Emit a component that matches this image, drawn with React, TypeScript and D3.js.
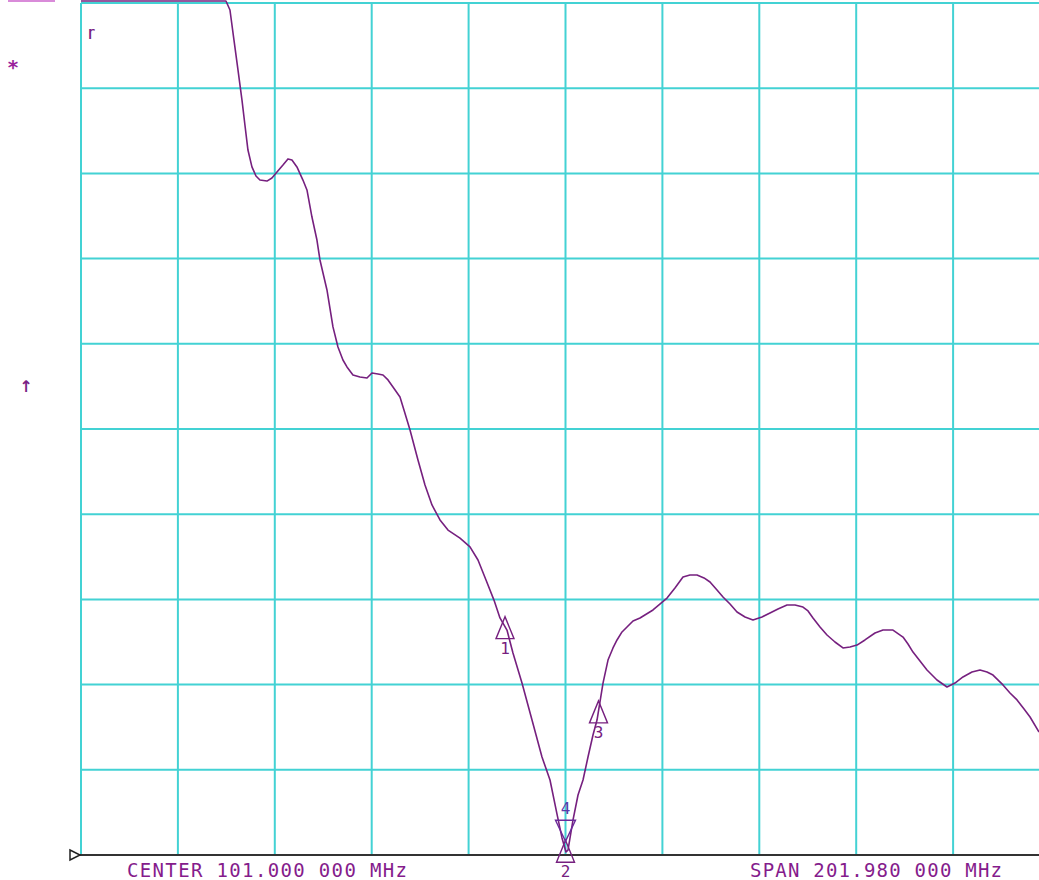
import React from "react";
import * as d3 from "d3";

// Sweep setup (network analyzer screen)
const centerMHz = 101.0;
const spanMHz = 201.98;
const xDivisions = 10;
const yDivisions = 10;
const refLevelDb = 0;
const dbPerDiv = 5;

const centerLabel = "CENTER 101.000 000 MHz";
const spanLabel = "SPAN 201.980 000 MHz";

// Trace
const freqMHz = [
  0.01, 14.39, 30.23, 31.06, 31.89, 32.73, 33.56, 34.18, 34.81, 35.64, 36.48, 37.31, 38.77, 39.81,
  40.86, 42.11, 43.15, 43.98, 45.02, 46.27, 47.11, 48.15, 49.19, 49.82, 51.28, 52.53, 53.57, 54.61,
  55.45, 56.7, 58.16, 59.62, 60.66, 61.91, 62.96, 64.0, 65.04, 66.5, 67.33, 68.59, 70.25, 71.71,
  73.17, 74.84, 76.51, 79.01, 81.09, 82.76, 84.43, 86.09, 87.34, 88.8, 90.05, 91.93, 94.02, 96.1,
  97.77, 99.23, 100.27, 101.1, 101.52, 102.56, 103.61, 104.65, 105.69, 106.73, 107.57, 108.82,
  109.86, 110.9, 111.74, 112.78, 113.82, 115.07, 116.53, 119.24, 122.16, 123.82, 125.49, 126.95,
  128.41, 129.87, 131.12, 132.58, 133.83, 135.29, 136.75, 138.42, 140.08, 141.96, 143.63, 145.29,
  147.17, 148.84, 150.5, 151.55, 152.59, 154.05, 155.51, 157.17, 158.84, 160.3, 161.76, 163.42,
  165.51, 167.18, 169.26, 171.35, 172.39, 173.43, 174.89, 176.35, 178.43, 180.52, 182.18, 183.85,
  185.73, 187.4, 188.86, 190.11, 192.19, 193.65, 195.12, 196.58, 197.83, 199.7,
];
const levelDb = [
  0.12, 0.12, 0.12, -0.41, -2.17, -3.93, -5.69, -7.16, -8.63, -9.62, -10.15, -10.39, -10.45, -10.27,
  -9.92, -9.51, -9.15, -9.21, -9.62, -10.39, -10.97, -12.56, -13.91, -15.08, -16.84, -19.01, -20.19, -20.95,
  -21.36, -21.83, -21.95, -22.01, -21.71, -21.77, -21.83, -22.12, -22.54, -23.12, -23.89, -25.06, -26.82, -28.29,
  -29.46, -30.34, -30.93, -31.4, -31.92, -32.69, -33.86, -35.04, -36.09, -36.8, -38.15, -39.91, -42.08, -44.25,
  -45.6, -47.6, -49.0, -49.82, -49.71, -47.95, -46.48, -45.6, -44.25, -42.96, -42.08, -39.91,
  -38.56, -37.85, -37.38, -36.91, -36.62, -36.27, -36.09, -35.62, -34.92, -34.33, -33.69, -33.57,
  -33.57, -33.74, -33.98, -34.45, -34.86, -35.27, -35.74, -36.03, -36.21, -36.03, -35.8, -35.56,
  -35.33, -35.33, -35.45, -35.68, -36.09, -36.62, -37.09, -37.5, -37.85, -37.79, -37.68, -37.38,
  -36.97, -36.8, -36.8, -37.21, -37.62, -38.09, -38.62, -39.14, -39.73, -40.14, -39.91, -39.55,
  -39.26, -39.14, -39.26, -39.44, -40.02, -40.49, -40.9, -41.43, -41.9, -42.78,
];

// Markers: number, frequency
const markerIds = ["1", "2", "3"];
const markerFreqs = [88.39, 101.0, 107.88];
const deltaMarkerId = "4";
const deltaMarkerFreq = 101.0;

const W = 1039;
const H = 880;
const left = 81;
const top = 3;
const gridW = 969;
const gridH = 852;

const GRID = "#43d2d4";
const TRACE = "#76207f";
const TEXT = "#851c8c";

export default function App() {
  const startF = centerMHz - spanMHz / 2;
  const stopF = centerMHz + spanMHz / 2;
  const x = d3.scaleLinear().domain([startF, stopF]).range([left, left + gridW]);
  const bottomDb = refLevelDb - dbPerDiv * yDivisions;
  const y = d3.scaleLinear().domain([bottomDb, refLevelDb]).range([top + gridH, top]);

  const pts: [number, number][] = freqMHz.map((f, i) => [f, levelDb[i]]);
  const line = d3
    .line<[number, number]>()
    .x((d) => x(d[0]))
    .y((d) => Math.max(1, y(d[1])));

  const interp = (f: number) => {
    const i = d3.bisector((d: [number, number]) => d[0]).left(pts, f);
    if (i <= 0) return pts[0][1];
    if (i >= pts.length) return pts[pts.length - 1][1];
    const [f0, v0] = pts[i - 1];
    const [f1, v1] = pts[i];
    return v0 + ((v1 - v0) * (f - f0)) / (f1 - f0);
  };

  const vTicks = d3.range(0, xDivisions + 1).map((i) => startF + (spanMHz * i) / xDivisions);
  const hTicks = d3.range(1, yDivisions + 1).map((i) => bottomDb + dbPerDiv * i);

  const tri = (cx: number, ty: number) => {
    const apex = ty - 10;
    const base = ty + 12;
    return `M${cx},${apex}L${cx - 9},${base}L${cx + 9},${base}Z`;
  };

  const dX = x(deltaMarkerFreq);
  const dY = y(interp(deltaMarkerFreq));

  return (
    <svg
      width={W}
      height={H}
      style={{ position: "absolute", left: 0, top: 0, background: "#ffffff" }}
      fontFamily="'DejaVu Sans Mono', monospace"
    >
      <rect x={0} y={0} width={W} height={H} fill="#ffffff" />
      {/* partial top-left annotation bar */}
      <rect x={8} y={0} width={47} height={2} fill="#d98bd9" />
      {/* grid verticals */}
      {vTicks.map((f, i) => (
        <line key={"v" + i} x1={x(f)} x2={x(f)} y1={top} y2={top + gridH} stroke={GRID} strokeWidth={2} />
      ))}
      {/* grid horizontals */}
      {hTicks.map((v, i) => (
        <line key={"h" + i} x1={left} x2={W} y1={y(v)} y2={y(v)} stroke={GRID} strokeWidth={2} />
      ))}
      {/* bottom baseline */}
      <line x1={76} x2={W} y1={top + gridH} y2={top + gridH} stroke="#333333" strokeWidth={2} />
      {/* reference position marker */}
      <path d={`M70,850L80,${top + gridH}L70,860Z`} fill="#ffffff" stroke="#222222" strokeWidth={1.5} />

      {/* trace */}
      <path d={line(pts) || ""} fill="none" stroke={TRACE} strokeWidth={1.6} strokeLinejoin="round" />

      {/* markers */}
      {markerIds.map((id, i) => {
        const cx = x(markerFreqs[i]);
        const ty = y(interp(markerFreqs[i]));
        return (
          <g key={id}>
            <path d={tri(cx, ty)} fill="none" stroke={TRACE} strokeWidth={1.4} />
            <text x={cx} y={ty + 27} fontSize={16} fill={TRACE} textAnchor="middle">
              {id}
            </text>
          </g>
        );
      })}
      {/* delta reference marker */}
      <path
        d={`M${dX},${dY - 9}L${dX - 10},${dY - 30}L${dX + 10},${dY - 30}Z`}
        fill="none"
        stroke="#6a2a9a"
        strokeWidth={1.4}
      />
      <text x={dX} y={dY - 36} fontSize={16} fill="#5a3aa8" textAnchor="middle">
        {deltaMarkerId}
      </text>

      {/* left annotation symbols */}
      <text x={13} y={74} fontSize={20} fill="#9a1f9c" textAnchor="middle" fontWeight="bold">
        *
      </text>
      <text
        x={26}
        y={392}
        fontSize={16}
        fill="#7a1f86"
        textAnchor="middle"
        fontWeight="bold"
        fontFamily="'DejaVu Sans', sans-serif"
      >
        ↑
      </text>
      <text x={92} y={36} fontSize={13} fill="#7a1f86" textAnchor="middle" fontWeight="bold">
        ɼ
      </text>

      {/* bottom labels */}
      <text x={127} y={877} fontSize={19} fill={TEXT} textLength={280} lengthAdjust="spacing">
        {centerLabel}
      </text>
      <text x={750} y={877} fontSize={19} fill={TEXT} textLength={252} lengthAdjust="spacing">
        {spanLabel}
      </text>
    </svg>
  );
}
